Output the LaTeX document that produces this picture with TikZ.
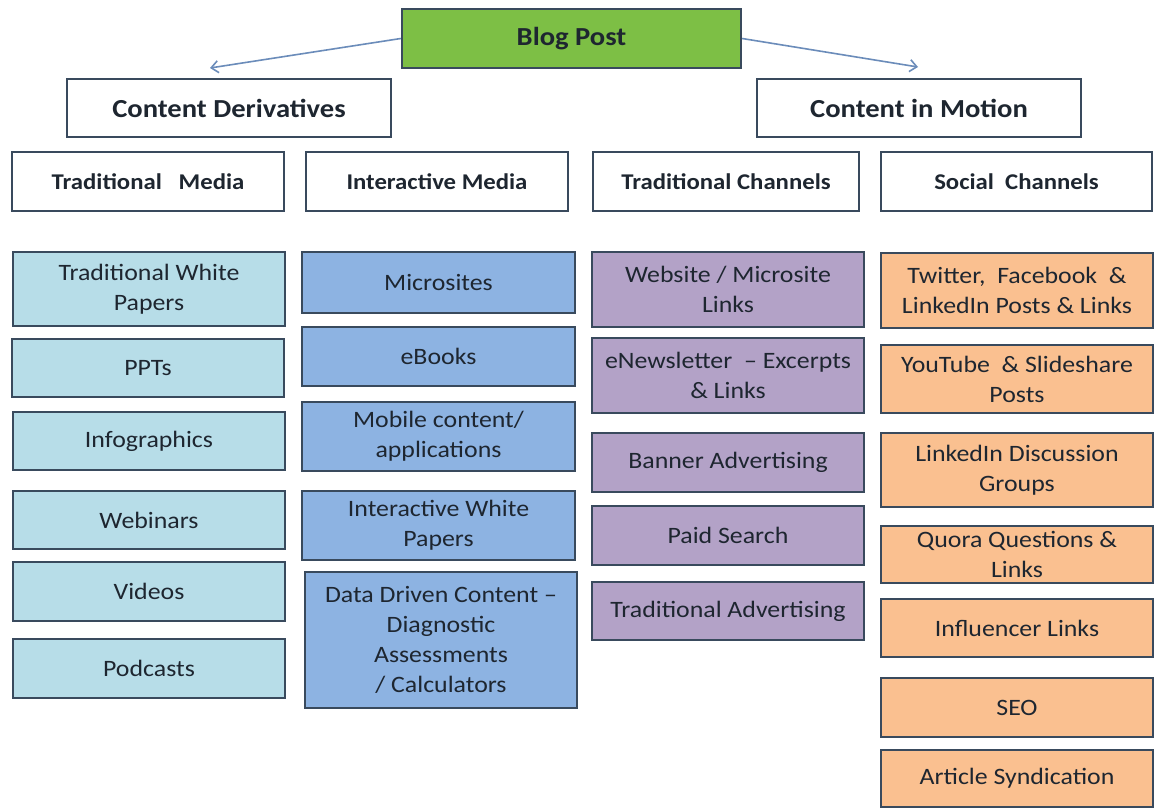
\documentclass[tikz,border=0pt]{standalone}
\usepackage{fontspec}
\setmainfont{Carlito}[FakeStretch=1.1]
\usetikzlibrary{arrows.meta}
\definecolor{edgec}{HTML}{394A5D}
\definecolor{txt}{HTML}{1E2630}
\definecolor{green1}{HTML}{7DBF45}
\definecolor{aqua1}{HTML}{B7DDE8}
\definecolor{blue1}{HTML}{8DB3E2}
\definecolor{purple1}{HTML}{B3A2C7}
\definecolor{orange1}{HTML}{FAC090}
\definecolor{arrowc}{HTML}{6B8CBA}
\newcommand\BX[7]{\node[#1,minimum width={#5-#3},minimum height={#6-#4}] (#2) at ({(#3+#5)/2},{(#4+#6)/2}) {#7};}
\begin{document}
\begin{tikzpicture}[x=1pt,y=-1pt,
  base/.style={draw=edgec,line width=2.4pt,inner sep=0pt,align=center,text=txt},
  top/.style={base,fill=green1,font=\fontsize{26}{31}\selectfont\bfseries},
  cat/.style={base,fill=white,font=\fontsize{26}{31}\selectfont\bfseries},
  sub/.style={base,fill=white,font=\fontsize{22.5}{28}\selectfont\bfseries},
  itemA/.style={base,fill=aqua1,font=\fontsize{23.5}{30}\selectfont},
  itemB/.style={base,fill=blue1,font=\fontsize{23.5}{30}\selectfont},
  itemC/.style={base,fill=purple1,font=\fontsize{23.5}{30}\selectfont},
  itemD/.style={base,fill=orange1,font=\fontsize{23.5}{30}\selectfont},
  link/.style={draw=arrowc,line width=1.6pt,-{Straight Barb[length=7pt,width=12pt,line width=1.6pt]}}]
\useasboundingbox (0,0) rectangle (1163,811);
\fill[white] (0,0) rectangle (1163,811);
% top level
\BX{top}{bp}{402}{9}{741}{68}{Blog Post}
\BX{cat}{cd}{67}{79}{391}{137}{Content Derivatives}
\BX{cat}{cm}{757}{79}{1081}{137}{Content in Motion}
\coordinate (cdtip) at (210,68);
\coordinate (cmtip) at (918,67);
\draw[link] (bp.west) -- (cdtip);
\draw[link] (bp.east) -- (cmtip);
% sub headers
\BX{sub}{tm}{12}{152}{284}{211}{Traditional\ \ \ Media}
\BX{sub}{im}{306}{152}{568}{211}{Interactive Media}
\BX{sub}{tc}{593}{152}{859}{211}{Traditional Channels}
\BX{sub}{sc}{881}{152}{1152}{211}{Social\ \ Channels}
% column 1
\BX{itemA}{a1}{13}{252}{285}{326}{Traditional White\\Papers}
\BX{itemA}{a2}{12}{339}{284}{397}{PPTs}
\BX{itemA}{a3}{13}{412}{285}{470}{Infographics}
\BX{itemA}{a4}{13}{491}{285}{549}{Webinars}
\BX{itemA}{a5}{13}{562}{285}{621}{Videos}
\BX{itemA}{a6}{13}{639}{285}{698}{Podcasts}
% column 2
\BX{itemB}{b1}{302}{252}{575}{313}{Microsites}
\BX{itemB}{b2}{302}{327}{575}{386}{eBooks}
\BX{itemB}{b3}{302}{402}{575}{471}{Mobile content/\\applications}
\BX{itemB}{b4}{302}{491}{575}{560}{Interactive White\\Papers}
\BX{itemB}{b5}{305}{572}{577}{708}{Data Driven Content --\\Diagnostic\\Assessments\\/ Calculators}
% column 3
\BX{itemC}{c1}{592}{252}{864}{327}{Website / Microsite\\Links}
\BX{itemC}{c2}{592}{338}{864}{413}{eNewsletter\ \ -- Excerpts\\\& Links}
\BX{itemC}{c3}{592}{433}{864}{492}{Banner Advertising}
\BX{itemC}{c4}{592}{506}{864}{565}{Paid Search}
\BX{itemC}{c5}{592}{582}{864}{640}{Traditional Advertising}
% column 4
\BX{itemD}{d1}{881}{253}{1153}{328}{Twitter,\ \ Facebook\ \ \&\\LinkedIn Posts \& Links}
\BX{itemD}{d2}{881}{345}{1153}{413}{YouTube\ \ \& Slideshare\\Posts}
\BX{itemD}{d3}{881}{433}{1153}{507}{LinkedIn Discussion\\Groups}
\BX{itemD}{d4}{881}{526}{1153}{583}{Quora Questions \&\\Links}
\BX{itemD}{d5}{881}{599}{1153}{657}{Influencer Links}
\BX{itemD}{d6}{881}{678}{1153}{737}{SEO}
\BX{itemD}{d7}{881}{750}{1153}{807}{Article Syndication}
\end{tikzpicture}
\end{document}
